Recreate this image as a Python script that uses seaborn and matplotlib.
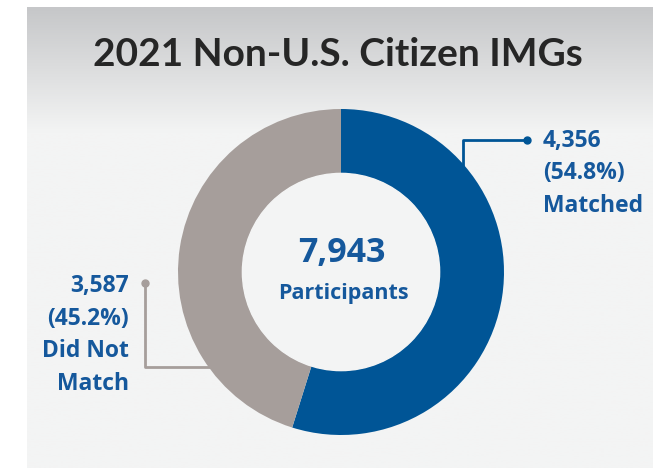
import numpy as np
import matplotlib
matplotlib.use("Agg")
import matplotlib.pyplot as plt
import seaborn as sns

# ---- data ----
categories = ["Matched", "Did Not Match"]
counts = [4356, 3587]
percents = [54.8, 45.2]
total_participants = 7943
title = "2021 Non-U.S. Citizen IMGs"

sns.set_style("white")
plt.rcParams['font.family'] = ['Lato', 'DejaVu Sans']

W, H = 653, 468
fig = plt.figure(figsize=(W / 100, H / 100), dpi=100)
ax = fig.add_axes([0, 0, 1, 1])

def Y(yp):
    return H - yp

panel_col = "#f3f4f4"
# background panel with gradient
grad = np.linspace(0, 1, 200)
top = np.array([0xc6, 0xc7, 0xc9]) / 255
bot = np.array([0xf3, 0xf4, 0xf4]) / 255
ramp = np.clip(grad / 0.27, 0, 1)[:, None]
img = top * (1 - ramp) + bot * ramp
ax.imshow(img[:, None, :], extent=[27, W, Y(H), Y(7)], aspect="auto",
          origin="upper", zorder=0)

palette = sns.color_palette(["#005596", "#a69e9b"])
cx, cy, R = 341, 272, 163
ax.pie(counts, colors=palette, startangle=90, counterclock=False,
       center=(cx, Y(cy)), radius=R, frame=True,
       wedgeprops=dict(width=R * 0.395, linewidth=0, zorder=2))
ax.add_patch(plt.Circle((cx, Y(cy)), R * 0.605, color=panel_col, zorder=3))
ax.set_xlim(0, W)
ax.set_ylim(0, H)
ax.set_aspect("auto")
ax.axis("off")

txt_blue = "#15589c"
lab_font = ['Open Sans', 'DejaVu Sans']
ax.text(338, Y(55), title, ha="center", va="center", fontsize=28,
        fontweight="bold", color="#262626", zorder=5)
ax.text(342, Y(253), f"{total_participants:,}", ha="center", va="center",
        fontsize=24.5, fontweight="bold", color=txt_blue, zorder=5, family=lab_font)
ax.text(343, Y(293), "Participants", ha="center", va="center",
        fontsize=15.5, fontweight="bold", color=txt_blue, zorder=5, family=lab_font)

# leader lines
ax.plot([463, 463, 527], [Y(168), Y(140), Y(140)], color="#005596", lw=2, zorder=4)
ax.plot([527], [Y(140)], "o", color="#005596", ms=5, zorder=4)
ax.plot([145, 145, 212], [Y(283), Y(367), Y(367)], color="#a69e9b", lw=2, zorder=1.5)
ax.plot([145], [Y(283)], "o", color="#a69e9b", ms=5, zorder=4)

for i, s in enumerate([f"{counts[0]:,}", f"({percents[0]}%)", categories[0]]):
    ax.text(543, Y(141 + 32.5 * i), s, ha="left", va="center", fontsize=16.5,
            fontweight="bold", color=txt_blue, zorder=5, family=lab_font)
left_lines = [f"{counts[1]:,}", f"({percents[1]}%)", "Did Not", "Match"]
for i, s in enumerate(left_lines):
    ax.text(129, Y(286 + 32.5 * i), s, ha="right", va="center", fontsize=16.5,
            fontweight="bold", color=txt_blue, zorder=5, family=lab_font)

fig.savefig("out.png", dpi=100, facecolor="white")
